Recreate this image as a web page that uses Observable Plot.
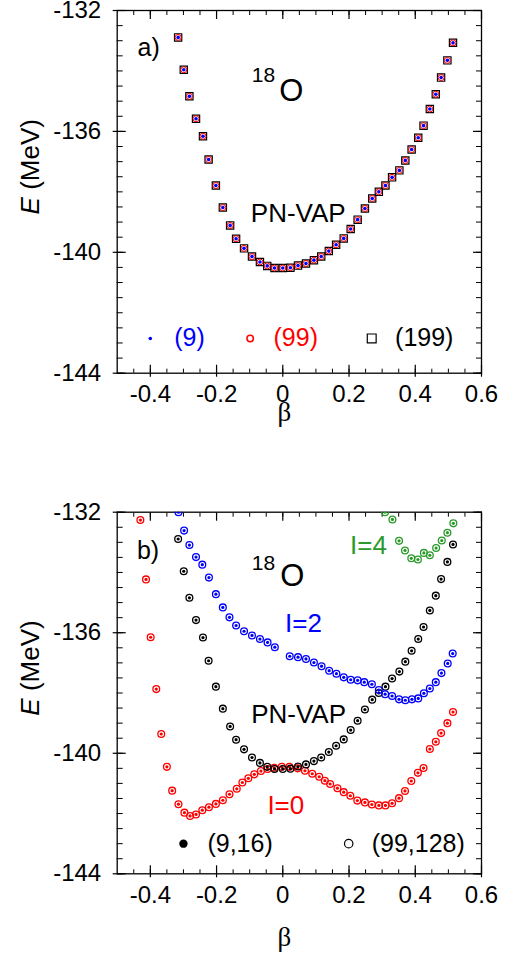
<!DOCTYPE html>
<html>
<head>
<meta charset="utf-8">
<script src="https://cdn.jsdelivr.net/npm/d3@7"></script>
<script src="https://cdn.jsdelivr.net/npm/@observablehq/plot@0.6"></script>
<style>
  html, body { margin: 0; padding: 0; background: #fff; }
  #chart { width: 516px; }
  #chart svg { display: block; overflow: visible; }
</style>
</head>
<body>
<div id="chart"></div>
<script>
// ---- Energy curves of 18O versus quadrupole deformation beta ----

// PN-VAP energy (MeV), identical for the (9), (99), (199) / (9,16), (99,128) bases
const betaVap = [-0.316, -0.299, -0.282, -0.262, -0.241, -0.224, -0.202, -0.181, -0.159, -0.141,
  -0.117, -0.093, -0.069, -0.047, -0.025, 0.000, 0.023, 0.046, 0.070, 0.094,
  0.116, 0.139, 0.161, 0.184, 0.205, 0.226, 0.248, 0.270, 0.290, 0.310,
  0.330, 0.352, 0.370, 0.389, 0.409, 0.425, 0.444, 0.462, 0.478, 0.497, 0.514];
const energyVap = [-132.89, -133.96, -134.84, -135.58, -136.16, -136.93, -137.79, -138.52, -139.11, -139.55,
  -139.87, -140.14, -140.32, -140.45, -140.52, -140.52, -140.51, -140.44, -140.37, -140.26,
  -140.14, -139.96, -139.75, -139.54, -139.23, -138.92, -138.55, -138.22, -138.00, -137.79,
  -137.52, -137.29, -136.96, -136.60, -136.21, -135.81, -135.26, -134.77, -134.22, -133.65, -133.07];

// Angular-momentum projected I=0
const betaI0 = [-0.430, -0.413, -0.399, -0.382, -0.367, -0.350, -0.334, -0.315, -0.297, -0.280,
  -0.262, -0.243, -0.223, -0.202, -0.181, -0.161, -0.139, -0.122, -0.104, -0.086,
  -0.066, -0.046, -0.026, -0.003, 0.020, 0.045, 0.067, 0.089, 0.110, 0.127,
  0.143, 0.165, 0.184, 0.204, 0.225, 0.248, 0.269, 0.290, 0.310, 0.330,
  0.351, 0.369, 0.388, 0.408, 0.425, 0.444, 0.462, 0.478, 0.497, 0.514];
const energyI0 = [-132.26, -134.23, -136.15, -137.87, -139.36, -140.45, -141.24, -141.69, -141.97, -142.08,
  -142.03, -141.89, -141.79, -141.68, -141.56, -141.36, -141.18, -140.97, -140.83, -140.70,
  -140.59, -140.52, -140.48, -140.45, -140.45, -140.50, -140.58, -140.68, -140.78, -140.91,
  -141.02, -141.16, -141.29, -141.41, -141.57, -141.63, -141.70, -141.73, -141.73, -141.66,
  -141.49, -141.25, -140.92, -140.65, -140.49, -139.86, -139.62, -139.33, -139.00, -138.63];

// I=2
const betaI2 = [-0.315, -0.298, -0.282, -0.262, -0.243, -0.223, -0.202, -0.181, -0.161, -0.141,
  -0.117, -0.093, -0.069, -0.046, -0.024, 0.021, 0.046, 0.070, 0.094, 0.117,
  0.140, 0.162, 0.184, 0.205, 0.226, 0.246, 0.269, 0.290, 0.309, 0.330,
  0.351, 0.370, 0.390, 0.409, 0.426, 0.444, 0.462, 0.479, 0.498, 0.513];
const energyI2 = [-132.00, -132.61, -133.09, -133.49, -133.74, -134.17, -134.72, -135.16, -135.49, -135.76,
  -135.95, -136.09, -136.21, -136.32, -136.48, -136.78, -136.81, -136.87, -136.99, -137.11,
  -137.26, -137.36, -137.48, -137.56, -137.58, -137.64, -137.71, -137.90, -138.04, -138.10,
  -138.21, -138.24, -138.21, -138.18, -138.01, -137.85, -137.64, -137.34, -137.02, -136.69];

// I=4
const betaI4 = [0.309, 0.331, 0.351, 0.369, 0.388, 0.408, 0.426, 0.444, 0.463, 0.480, 0.497, 0.515];
const energyI4 = [-132.00, -132.24, -132.95, -133.27, -133.53, -133.57, -133.35, -133.43, -133.19, -132.94, -132.68, -132.37];

// Axis ticks
const xTickValues = [-0.4, -0.2, 0, 0.2, 0.4, 0.6];
const yTickValues = [-132, -136, -140, -144];

const FONT = "'Liberation Sans', Arial, Helvetica, sans-serif";
const BLUE = "#0000ff", RED = "#ff0000", GREEN = "#2b9a2b", BLACK = "#000000";

const fmt = d => String(Math.round(d * 100) / 100);

// Boxed frame with inward ticks on all four sides
function frameMarks() {
  const minorX = d3.range(-9, 12).map(i => i * 0.05);
  const minorY = d3.range(0, 25).map(i => -144 + i * 0.5);
  const hidden = {fill: "none", label: null, tickFormat: () => ""};
  return [
    Plot.axisX(minorX, {anchor: "bottom", tickSize: 4, dy: -4, ...hidden}),
    Plot.axisX(minorX, {anchor: "top", tickSize: 4, dy: 4, ...hidden}),
    Plot.axisX(xTickValues, {anchor: "bottom", tickSize: 12, dy: -8, strokeWidth: 1.2, ...hidden}),
    Plot.axisX(xTickValues, {anchor: "top", tickSize: 8, dy: 8, strokeWidth: 1.2, ...hidden}),
    Plot.axisY(minorY, {anchor: "left", tickSize: 6, dx: 6, ...hidden}),
    Plot.axisY(minorY, {anchor: "right", tickSize: 6, dx: -6, ...hidden}),
    Plot.axisY(yTickValues, {anchor: "left", tickSize: 13, dx: 9, strokeWidth: 1.2, ...hidden}),
    Plot.axisY(yTickValues, {anchor: "right", tickSize: 9, dx: -9, strokeWidth: 1.2, ...hidden}),
    Plot.axisX(xTickValues, {anchor: "bottom", tickSize: 0, tickPadding: 12, tickFormat: fmt, fontSize: 24, label: null}),
    Plot.axisY(yTickValues, {anchor: "left", tickSize: 0, tickPadding: 16, tickFormat: fmt, fontSize: 24, label: null}),
    Plot.frame({stroke: BLACK, strokeWidth: 1.3})
  ];
}

function axisTitles(betaDy) {
  return [
    Plot.text(["E (MeV)"], {frameAnchor: "left", dx: -87, y: () => -137.17, rotate: -90,
      fontSize: 26, textAnchor: "middle"}),
    Plot.text(["β"], {frameAnchor: "bottom", x: () => 0.005, dy: betaDy, fontSize: 27,
      fontFamily: "'Liberation Serif', 'DejaVu Serif', serif"})
  ];
}

function makePanel({height, marginTop, marginBottom, marks}) {
  const svg = Plot.plot({
    width: 516,
    height,
    marginLeft: 116.7,
    marginRight: 35,
    marginTop,
    marginBottom,
    x: {domain: [-0.5, 0.6]},
    y: {domain: [-144, -132]},
    style: {fontFamily: FONT, fontSize: "24px", color: BLACK, background: "#fff", overflow: "visible"},
    marks
  });
  // Italic symbol in the energy axis title
  d3.select(svg).selectAll("text")
    .filter(function() { return this.textContent === "E (MeV)"; })
    .each(function() {
      const t = d3.select(this);
      t.text(null);
      t.append("tspan").attr("font-style", "italic").text("E");
      t.append("tspan").text(" (MeV)");
    });
  return svg;
}

const txt = (label, x, y, opts = {}) =>
  Plot.text([label], {x: () => x, y: () => y, textAnchor: "start", fontSize: 26, ...opts});

// ---- Panel a): PN-VAP in three bases ----
const panelA = makePanel({
  height: 477,
  marginTop: 10,
  marginBottom: 104.3,
  marks: [
    ...frameMarks(),
    Plot.dot(energyVap, {x: betaVap, y: energyVap, symbol: "square", r: 4.1, stroke: BLACK, strokeWidth: 1.2, fill: "none", clip: true}),
    Plot.dot(energyVap, {x: betaVap, y: energyVap, r: 3, stroke: RED, strokeWidth: 1, fill: "none", clip: true}),
    Plot.dot(energyVap, {x: betaVap, y: energyVap, r: 1.8, fill: BLUE, clip: true}),
    txt("a)", -0.4386, -133.24, {fontSize: 25}),
    txt("18", -0.0935, -134.15, {fontSize: 21}),
    txt("O", -0.011, -134.68, {fontSize: 31}),
    txt("PN-VAP", -0.0965, -138.73),
    // legend
    Plot.dot([0], {x: () => -0.4, y: () => -142.85, r: 1.8, fill: BLUE}),
    txt("(9)", -0.328, -142.85, {fill: BLUE, fontSize: 25}),
    Plot.dot([0], {x: () => -0.0985, y: () => -142.85, r: 3.2, stroke: RED, fill: "none"}),
    txt("(99)", -0.028, -142.85, {fill: RED, fontSize: 25}),
    Plot.dot([0], {x: () => 0.2685, y: () => -142.85, symbol: "square", r: 5, stroke: BLACK, strokeWidth: 1.2, fill: "none"}),
    txt("(199)", 0.339, -142.85, {fill: BLACK, fontSize: 25}),
    ...axisTitles(48)
  ]
});

// ---- Panel b): projected energies I=0, 2, 4 ----
const ring = (b, e, color) => [
  Plot.dot(e, {x: b, y: e, r: 3.4, stroke: color, strokeWidth: 1.3, fill: "none", clip: true}),
  Plot.dot(e, {x: b, y: e, r: 1.6, fill: color, clip: true})
];

const panelB = makePanel({
  height: 477,
  marginTop: 34.7,
  marginBottom: 80.7,
  marks: [
    ...frameMarks(),
    ...ring(betaI0, energyI0, RED),
    ...ring(betaVap, energyVap, BLACK),
    ...ring(betaI2, energyI2, BLUE),
    ...ring(betaI4, energyI4, GREEN),
    txt("b)", -0.4404, -133.30, {fontSize: 25}),
    txt("18", -0.0935, -133.71, {fontSize: 21}),
    txt("O", -0.008, -134.13, {fontSize: 31}),
    txt("I=4", 0.203, -133.10, {fill: GREEN}),
    txt("I=2", 0.007, -135.70, {fill: BLUE}),
    txt("PN-VAP", -0.0956, -138.73),
    txt("I=0", -0.0465, -141.74, {fill: RED}),
    // legend
    Plot.dot([0], {x: () => -0.300, y: () => -143.0, r: 4.2, fill: BLACK}),
    txt("(9,16)", -0.2275, -143.0, {fontSize: 25}),
    Plot.dot([0], {x: () => 0.199, y: () => -143.0, r: 4.2, stroke: BLACK, strokeWidth: 1.2, fill: "none"}),
    txt("(99,128)", 0.2685, -143.0, {fontSize: 25}),
    ...axisTitles(72)
  ]
});

document.getElementById("chart").append(panelA, panelB);
</script>
</body>
</html>
